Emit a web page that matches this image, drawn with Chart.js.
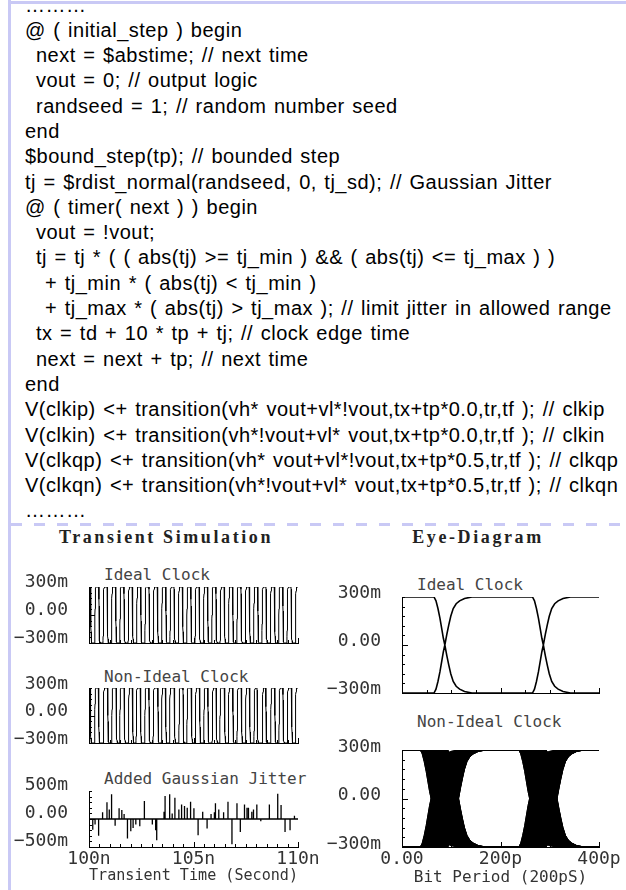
<!DOCTYPE html>
<html>
<head>
<meta charset="utf-8">
<script src="https://cdn.jsdelivr.net/npm/chart.js@4.4.1/dist/chart.umd.min.js"></script>
<style>
  body { margin: 0; width: 626px; height: 890px; background: #fff; position: relative; overflow: hidden; }
  .frame-top { position: absolute; left: 8px; top: 1px; width: 618px; height: 3px; background: #c9c9f5; }
  .frame-left { position: absolute; left: 8px; top: 0; width: 3px; height: 890px; background: #c9c9f5; }
  .divider { position: absolute; left: 11px; top: 523px; width: 615px; height: 3px;
    background: repeating-linear-gradient(to right, #c9c9f5 0 11px, transparent 11px 23px); }
  .code { position: absolute; left: 25px; top: -7.5px; font-family: "Liberation Sans", Arial, sans-serif;
    font-size: 20px; line-height: 25.3px; letter-spacing: 0.5px; word-spacing: 1.5px; color: #000; }
  .code div { white-space: pre; height: 25.3px; }
  .code .i1 { padding-left: 11px; }
  .code .i2 { padding-left: 20px; }
  .head { position: absolute; top: 527px; line-height: 20px; text-align: center; font-family: "Liberation Serif", serif;
    font-weight: bold; font-size: 18px; letter-spacing: 2.6px; color: #222; }
  .lbl { position: absolute; font-family: "DejaVu Sans Mono", monospace; font-size: 16px; line-height: 16px; color: #444; white-space: pre; }
  canvas { position: absolute; }
</style>
</head>
<body>
<div class="frame-top"></div>
<div class="frame-left"></div>
<div class="divider"></div>

<div class="code">
<div>………</div>
<div>@ ( initial_step ) begin</div>
<div class="i1">next = $abstime; // next time</div>
<div class="i1">vout = 0; // output logic</div>
<div class="i1">randseed = 1; // random number seed</div>
<div>end</div>
<div>$bound_step(tp); // bounded step</div>
<div>tj = $rdist_normal(randseed, 0, tj_sd); // Gaussian Jitter</div>
<div>@ ( timer( next ) ) begin</div>
<div class="i1">vout = !vout;</div>
<div class="i1">tj = tj * ( ( abs(tj) &gt;= tj_min ) &amp;&amp; ( abs(tj) &lt;= tj_max ) )</div>
<div class="i2">+ tj_min * ( abs(tj) &lt; tj_min )</div>
<div class="i2">+ tj_max * ( abs(tj) &gt; tj_max ); // limit jitter in allowed range</div>
<div class="i1">tx = td + 10 * tp + tj; // clock edge time</div>
<div class="i1">next = next + tp; // next time</div>
<div>end</div>
<div>V(clkip) &lt;+ transition(vh* vout+vl*!vout,tx+tp*0.0,tr,tf ); // clkip</div>
<div>V(clkin) &lt;+ transition(vh*!vout+vl* vout,tx+tp*0.0,tr,tf ); // clkin</div>
<div>V(clkqp) &lt;+ transition(vh* vout+vl*!vout,tx+tp*0.5,tr,tf ); // clkqp</div>
<div>V(clkqn) &lt;+ transition(vh*!vout+vl* vout,tx+tp*0.5,tr,tf ); // clkqn</div>
<div>………</div>
</div>

<div class="head" style="left:0;width:332px">Transient Simulation</div>
<div class="head" style="left:330px;width:296px">Eye-Diagram</div>

<div class="lbl" style="left:104px;top:567px">Ideal Clock</div>
<div class="lbl" style="left:104px;top:669px">Non-Ideal Clock</div>
<div class="lbl" style="left:104px;top:771px">Added Gaussian Jitter</div>
<div class="lbl" style="left:417px;top:577px">Ideal Clock</div>
<div class="lbl" style="left:417px;top:714px">Non-Ideal Clock</div>

<canvas id="trIdeal" width="320" height="80" style="left:0;top:570px"></canvas>
<canvas id="trReal" width="320" height="80" style="left:0;top:670px"></canvas>
<canvas id="trJitter" width="320" height="120" style="left:0;top:770px"></canvas>
<canvas id="eyeIdeal" width="311" height="120" style="left:315px;top:580px"></canvas>
<canvas id="eyeReal" width="311" height="160" style="left:315px;top:730px"></canvas>

<script>
// Time axis (ns) and tick labels
const timeRange = [100, 110];
const timeTicks = [100, 105, 110];
// Eye window (ps)
const eyeRange = [0, 400];
const eyeTicks = [0, 200, 400];
// Voltage ticks
const clockTicks = [-0.3, 0, 0.3];
const jitterTicks = [-0.5, 0, 0.5];

// Clock: swing, bit period, edge crossings inside one bit period (ps)
const swing = 0.3;
const bitPeriodPs = 400;
const edgeCrossPs = [87, 287];
// Shape of one edge: time from crossing (ps) vs fraction of the swing done
const edgeShapePs = [-22, -18, -14, -10, -6, -3, 0, 4, 8, 12, 17, 23, 30, 40, 55];
const edgeShapeFrac = [0, 0.04, 0.12, 0.22, 0.34, 0.43, 0.5, 0.61, 0.71, 0.8, 0.88, 0.93, 0.96, 0.985, 1];

// Added Gaussian jitter spikes (time in ns, value)
const jitterTimeNs = [100.18, 100.29, 100.46, 100.65, 100.86, 100.97, 101.08, 101.25, 101.44, 101.57,
  101.68, 101.84, 102.00, 102.11, 102.24, 102.43, 102.65, 103.03, 103.19, 103.24,
  103.59, 103.64, 103.86, 103.98, 104.11, 104.30, 104.43, 104.57, 104.70, 104.86,
  105.02, 105.22, 105.44, 105.65, 105.84, 106.00, 106.05, 106.21, 106.44, 106.65,
  106.84, 107.08, 107.24, 107.44, 107.56, 107.63, 107.79, 107.87, 108.03, 108.22,
  108.63, 109.03, 109.19, 109.38, 109.62, 109.83];
const jitterValue = [-0.19, -0.10, -0.30, 0.12, 0.30, 0.17, 0.44, -0.12, 0.19, 0.16,
  0.09, -0.35, -0.22, -0.16, -0.10, -0.13, 0.32, -0.10, -0.20, -0.38,
  0.13, 0.41, 0.44, 0.10, 0.38, 0.17, 0.26, 0.23, 0.20, 0.31,
  0.19, -0.29, 0.13, -0.17, 0.09, 0.12, 0.28, 0.17, 0.12, 0.31,
  -0.45, 0.28, -0.23, 0.26, 0.20, 0.20, 0.13, 0.17, 0.26, -0.04,
  0.26, 0.45, 0.25, -0.23, -0.20, 0.06];
const jitterScalePs = 62; // ps of edge shift per jitter unit

const tickFont = { family: 'DejaVu Sans Mono', size: 18 };
const titleFont = { family: 'DejaVu Sans Mono', size: 16 };
const labelColor = '#333';

function fmtVolt(v) {
    const mv = Math.round(v * 1000);
    if (mv === 0) return '0.00';
    return (mv < 0 ? '\u2212' : '') + Math.abs(mv) + 'm';
}

// push the points of one edge (from level a to level b) crossing at time c
function pushEdge(pts, c, a, b, unit) {
    edgeShapePs.forEach((s, i) => {
        pts.push({ x: c + s * unit, y: a + (b - a) * edgeShapeFrac[i] });
    });
}

// clock transient over the time window, edges shifted by jitter if given
function buildClock(shifts) {
    const pts = [];
    let level = swing;
    pts.push({ x: timeRange[0], y: level });
    let n = 0;
    for (let k = 0; timeRange[0] + (k * bitPeriodPs) / 1000 < timeRange[1]; k++) {
        edgeCrossPs.forEach(c => {
            let t = timeRange[0] + (k * bitPeriodPs + c) / 1000;
            if (shifts) t += shifts[n] * jitterScalePs / 1000;
            pushEdge(pts, t, level, -level, 0.001);
            level = -level;
            n++;
        });
    }
    pts.push({ x: timeRange[1], y: level });
    return pts;
}

function buildJitter() {
    const pts = [{ x: timeRange[0], y: 0 }];
    jitterTimeNs.forEach((t, i) => {
        pts.push({ x: t, y: 0 }, { x: t, y: jitterValue[i] }, { x: t, y: 0 });
    });
    pts.push({ x: timeRange[1], y: 0 });
    return pts;
}

// one folded bit period of the eye starting at level `start`
function eyeTrace(pts, start, c1, c2) {
    pts.push({ x: eyeRange[0], y: start });
    pushEdge(pts, c1, start, -start, 1);
    pushEdge(pts, c2, -start, start, 1);
    pts.push({ x: eyeRange[1], y: start });
}

function buildEye(useJitter) {
    const pts = [];
    const count = useJitter ? jitterValue.length - 1 : 1;
    for (let i = 0; i < count; i++) {
        const c1 = edgeCrossPs[0] + (useJitter ? jitterValue[i] * jitterScalePs : 0);
        const c2 = edgeCrossPs[1] + (useJitter ? jitterValue[i + 1] * jitterScalePs : 0);
        eyeTrace(pts, swing, c1, c2);
        pts.push({ x: eyeRange[1], y: null });
        eyeTrace(pts, -swing, c1, c2);
        pts.push({ x: eyeRange[1], y: null });
    }
    return pts;
}

// earliest / latest trace of the jittered eye, filled between them
function buildEnvelope(start, which) {
    const pick = which === 'early' ? Math.min(...jitterValue) : Math.max(...jitterValue);
    const pts = [];
    eyeTrace(pts, start, edgeCrossPs[0] + pick * jitterScalePs, edgeCrossPs[1] + pick * jitterScalePs);
    return pts;
}

function trace(data, width) {
    return { data: data, borderColor: '#000', borderWidth: width, pointRadius: 0, tension: 0, spanGaps: false, fill: false };
}

function envelopePair(start) {
    return [
        { data: buildEnvelope(start, 'early'), borderColor: '#000', borderWidth: 1, pointRadius: 0, tension: 0,
          fill: '+1', backgroundColor: '#000' },
        trace(buildEnvelope(start, 'late'), 1)
    ];
}

// small tick marks drawn inside the plot, along left and bottom axes
const insideTicks = {
    id: 'insideTicks',
    afterDraw(chart, args, opts) {
        const { ctx, chartArea: a, scales: { x, y } } = chart;
        ctx.save();
        ctx.strokeStyle = '#000';
        ctx.lineWidth = 1;
        ctx.beginPath();
        for (let i = 0; i <= opts.yCount; i++) {
            const v = y.min + (y.max - y.min) * i / opts.yCount;
            const py = Math.round(y.getPixelForValue(v)) + 0.5;
            const len = Math.abs(v) < 1e-9 ? 6 : 3;
            ctx.moveTo(a.left, py);
            ctx.lineTo(a.left + len, py);
        }
        for (let i = 0; i <= opts.xCount; i++) {
            const v = x.min + (x.max - x.min) * i / opts.xCount;
            const px = Math.round(x.getPixelForValue(v)) + 0.5;
            const len = opts.xMajor.some(m => Math.abs(m - v) < 1e-6) ? 5 : 3;
            ctx.moveTo(px, a.bottom);
            ctx.lineTo(px, a.bottom - len);
        }
        ctx.stroke();
        ctx.restore();
    }
};

function makeChart(id, cfg) {
    return new Chart(document.getElementById(id), {
        type: 'line',
        data: { datasets: cfg.datasets },
        options: {
            responsive: false,
            animation: false,
            events: [],
            layout: { padding: { top: cfg.padTop, right: cfg.padRight, left: 0, bottom: 0 } },
            plugins: {
                legend: { display: false },
                tooltip: { enabled: false },
                insideTicks: { yCount: 10, xCount: cfg.xCount, xMajor: cfg.xTicks }
            },
            scales: {
                x: {
                    type: 'linear',
                    min: cfg.xRange[0],
                    max: cfg.xRange[1],
                    grid: { display: false },
                    border: { color: '#000', width: 1 },
                    ticks: {
                        display: cfg.xLabels,
                        font: tickFont,
                        color: labelColor,
                        padding: -6,
                        maxRotation: 0,
                        autoSkip: false,
                        callback: cfg.xFormat
                    },
                    afterBuildTicks: s => { s.ticks = cfg.xTicks.map(v => ({ value: v })); },
                    title: {
                        display: !!cfg.xTitle,
                        text: cfg.xTitle || '',
                        font: titleFont,
                        color: labelColor,
                        padding: { top: 0, bottom: cfg.titlePad || 0 }
                    },
                    afterFit: s => {
                        s.height = cfg.xHeight;
                        s.paddingLeft = 0;
                        s.paddingRight = 0;
                    }
                },
                y: {
                    min: cfg.yTicks[0],
                    max: cfg.yTicks[cfg.yTicks.length - 1],
                    grid: { display: false },
                    border: { color: '#000', width: 1 },
                    ticks: {
                        font: tickFont,
                        color: labelColor,
                        padding: 13,
                        labelOffset: cfg.labelOffset,
                        autoSkip: false,
                        callback: v => fmtVolt(v)
                    },
                    afterBuildTicks: s => { s.ticks = cfg.yTicks.map(v => ({ value: v })); },
                    afterFit: s => {
                        s.width = cfg.yWidth;
                        s.paddingTop = 0;
                        s.paddingBottom = 0;
                    }
                }
            }
        },
        plugins: [insideTicks]
    });
}

const timeFmt = v => v + 'n';
const eyeFmt = v => (v === 0 ? '0.00' : v + 'p');

makeChart('trIdeal', {
    datasets: [trace(buildClock(null), 1)],
    xRange: timeRange, xTicks: timeTicks, xCount: 20, xLabels: false, xFormat: timeFmt,
    yTicks: clockTicks, labelOffset: -5,
    padTop: 17, padRight: 22, yWidth: 89, xHeight: 7
});
makeChart('trReal', {
    datasets: [trace(buildClock(jitterValue), 1)],
    xRange: timeRange, xTicks: timeTicks, xCount: 20, xLabels: false, xFormat: timeFmt,
    yTicks: clockTicks, labelOffset: -4,
    padTop: 18, padRight: 22, yWidth: 89, xHeight: 7
});
makeChart('trJitter', {
    datasets: [trace(buildJitter(), 1.3)],
    xRange: timeRange, xTicks: timeTicks, xCount: 20, xLabels: true, xFormat: timeFmt,
    xTitle: 'Transient Time (Second)', titlePad: 5,
    yTicks: jitterTicks, labelOffset: -6,
    padTop: 21, padRight: 22, yWidth: 89, xHeight: 43
});
makeChart('eyeIdeal', {
    datasets: [trace(buildEye(false), 1.6)],
    xRange: eyeRange, xTicks: eyeTicks, xCount: 8, xLabels: false, xFormat: eyeFmt,
    yTicks: clockTicks, labelOffset: -4,
    padTop: 17, padRight: 27, yWidth: 87, xHeight: 7
});
makeChart('eyeReal', {
    datasets: [...envelopePair(swing), ...envelopePair(-swing), trace(buildEye(true), 1)],
    xRange: eyeRange, xTicks: eyeTicks, xCount: 8, xLabels: true, xFormat: eyeFmt,
    xTitle: 'Bit Period (200pS)', titlePad: 3,
    yTicks: clockTicks, labelOffset: -3,
    padTop: 20, padRight: 27, yWidth: 87, xHeight: 43
});
</script>
</body>
</html>
